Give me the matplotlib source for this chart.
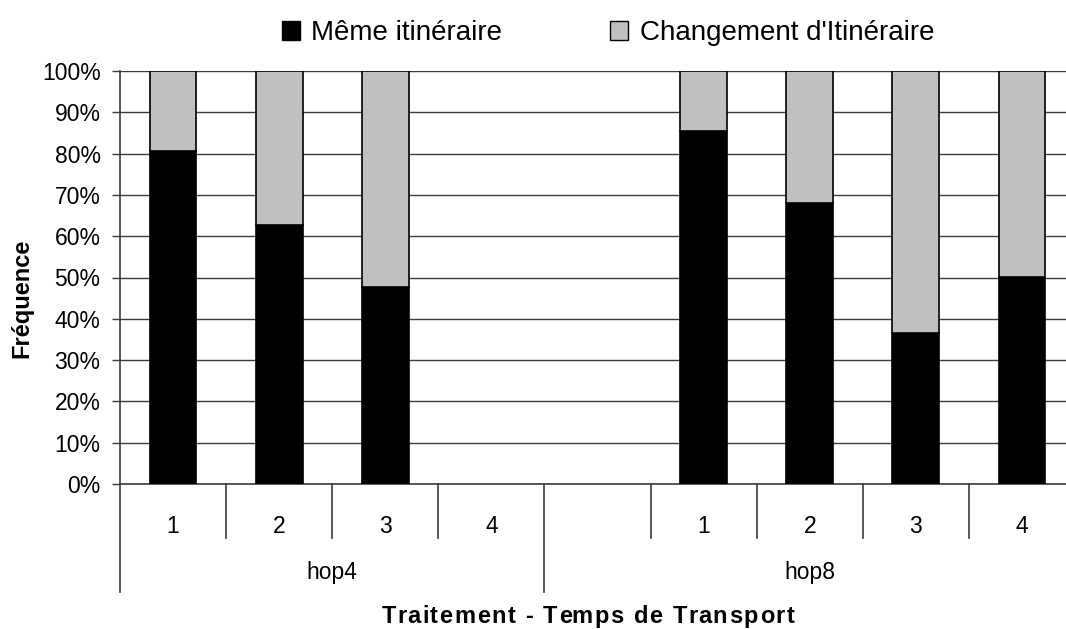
import numpy as np
import matplotlib
matplotlib.use('Agg')
import matplotlib.pyplot as plt
from matplotlib.patches import Patch

plt.rcParams['font.family'] = ['Liberation Sans', 'DejaVu Sans']

# data
sub_labels = ['1', '2', '3', '4', '', '1', '2', '3', '4']
groups = ['hop4', 'hop8']
group_spans = [(-0.5, 3.5), (3.5, 8.5)]
meme = [80.6, 62.7, 47.6, np.nan, np.nan, 85.5, 68.1, 36.6, 50.1]
present = [True, True, True, False, False, True, True, True, True]
changement = [100 - m if p else np.nan for m, p in zip(meme, present)]
xlabel = 'Traitement - Temps de Transport'

W, H = 1066, 629
fig = plt.figure(figsize=(W/100, H/100), dpi=100)
ax = fig.add_axes([120/W, (H-484)/H, 955/W, 413/H])

x = np.arange(len(sub_labels))
bw = 0.44
ax.bar(x, meme, bw, color='black', edgecolor='black', lw=1.2, zorder=3)
ax.bar(x, changement, bw, bottom=meme, color='#c0c0c0', edgecolor='black', lw=1.2, zorder=3)

ax.set_xlim(-0.5, 8.5)
ax.set_ylim(0, 100)
ax.set_yticks(np.arange(0, 101, 10))
ax.set_yticklabels([f'{v}%' for v in range(0, 101, 10)], fontsize=16.5)
ax.yaxis.grid(True, color='#3c3c3c', lw=1.0, zorder=0)
ax.set_axisbelow(True)
ax.tick_params(axis='y', length=6, width=1, color='#3c3c3c', pad=8)

ax.set_xticks(x)
ax.set_xticklabels(sub_labels, fontsize=16.5)
ax.tick_params(axis='x', length=0, pad=22)

for s in ['top', 'right']:
    ax.spines[s].set_visible(False)
for s in ['left', 'bottom']:
    ax.spines[s].set_color('#3c3c3c')
    ax.spines[s].set_linewidth(1.2)

# category separators below the axis
tr = ax.get_xaxis_transform()
short_y = -54/413
long_y = -108/413
for b in np.arange(-0.5, 9.0, 1.0):
    is_long = any(np.isclose(b, s[0]) or np.isclose(b, s[1]) for s in group_spans)
    ax.plot([b, b], [0, long_y if is_long else short_y], color='#3c3c3c', lw=1.2,
            transform=tr, clip_on=False)

for g, (a, b) in zip(groups, group_spans):
    ax.text((a + b) / 2, -89/413, g, transform=tr, ha='center', va='center', fontsize=16.5)

fig.text(22/W, 1 - 298/H, 'Fréquence', rotation=90, ha='center', va='center',
         fontsize=17, fontweight='bold')

# x title with extra letter spacing, drawn char by char
renderer = fig.canvas.get_renderer()
def text_w(s):
    t = fig.text(0, 0, s + '|', fontsize=17, fontweight='bold')
    w = t.get_window_extent(renderer).width
    t.remove()
    return w
bar_w = text_w('')
spacing = 1.6
offs = [text_w(xlabel[:i]) - bar_w + i*spacing for i in range(len(xlabel))]
total = text_w(xlabel) - bar_w + (len(xlabel) - 1)*spacing
x0 = 588 - total/2
for ch, o in zip(xlabel, offs):
    if ch != ' ':
        fig.text((x0 + o)/W, 6/H, ch, ha='left', va='baseline', fontsize=17, fontweight='bold')

handles = [Patch(facecolor='black', edgecolor='black', label='Même itinéraire'),
           Patch(facecolor='#c0c0c0', edgecolor='black', label="Changement d'Itinéraire")]
fig.legend(handles=handles, loc='center', bbox_to_anchor=(608/W, 1 - 33/H), ncol=2,
           frameon=False, fontsize=20, handlelength=0.65, handleheight=0.65,
           handletextpad=0.4, columnspacing=3.9)

fig.savefig('out.png', dpi=100)
